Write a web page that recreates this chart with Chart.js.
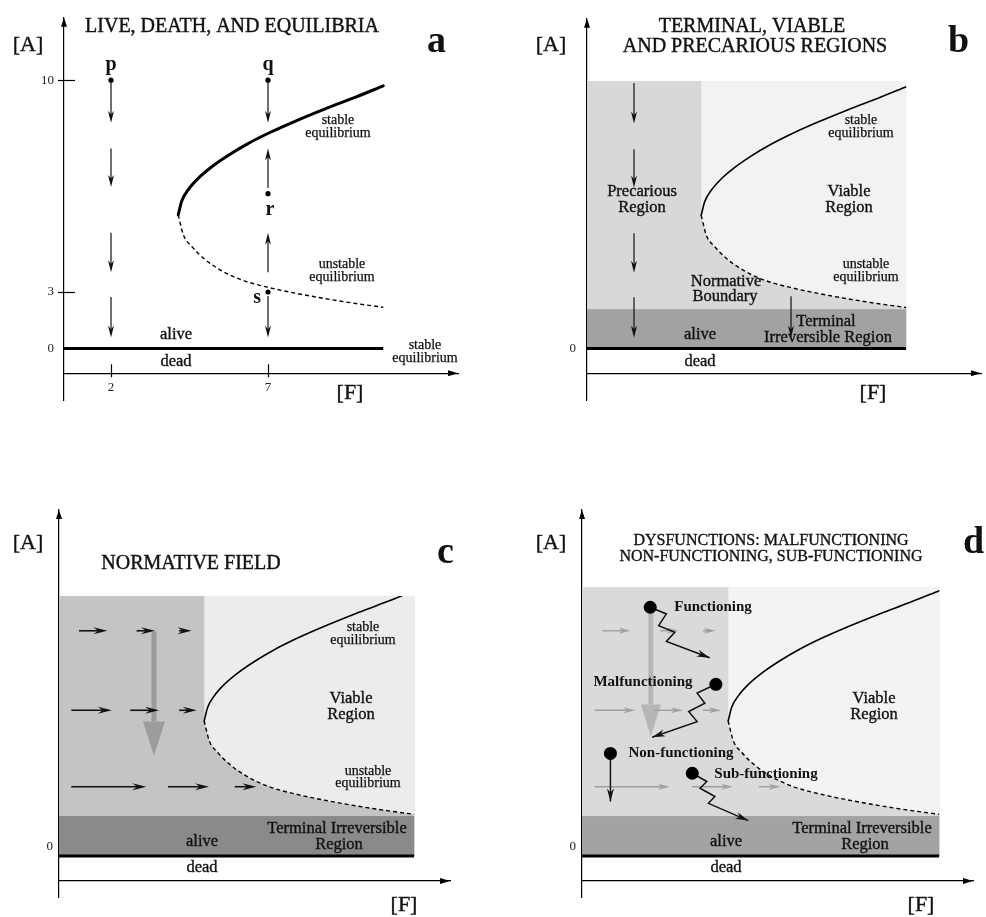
<!DOCTYPE html>
<html>
<head>
<meta charset="utf-8">
<script src="https://cdn.jsdelivr.net/npm/chart.js@4.4.1/dist/chart.umd.min.js"></script>
<style>
  html, body { margin: 0; padding: 0; background: #fff; }
  #wrap { position: relative; width: 986px; height: 917px; overflow: hidden; }
  canvas { position: absolute; }
</style>
</head>
<body>
<div id="wrap">
  <canvas id="pa" width="493" height="458" style="left:0;top:0"></canvas>
  <canvas id="pb" width="493" height="458" style="left:493px;top:0"></canvas>
  <canvas id="pc" width="493" height="459" style="left:0;top:458px"></canvas>
  <canvas id="pd" width="493" height="459" style="left:493px;top:458px"></canvas>
</div>
<script>
// ---- data (F = environment, A = state of the system) ----

// bifurcation curve, same system in every panel
const stableF   = [4.14, 4.25, 4.46, 4.78, 5.21, 5.74, 6.32, 7.06, 7.86, 8.82, 9.77, 10.67];
const stableA   = [5.55, 6.00, 6.38, 6.76, 7.14, 7.52, 7.88, 8.27, 8.64, 9.05, 9.43, 9.81];
const unstableF = [4.14, 4.30, 4.57, 4.99, 5.53, 6.16, 7.06, 7.96, 8.92, 9.88, 10.67];
const unstableA = [5.55, 4.90, 4.51, 4.08, 3.70, 3.40, 3.14, 2.91, 2.62, 2.37, 2.19];

// the alive / dead boundary (A = 0)
const deadLineF = [-1, 10.67];
const deadLineA = [0, 0];

// panel a: initial states
const stateNames = ['p', 'q', 'r', 's'];
const stateF = [2, 7, 7, 7];
const stateA = [10, 10, 6.25, 3];

// panels a, b: flow arrows along F = 2 and F = 7
const flowF     = [2, 2, 2, 2, 7, 7, 7, 7];
const flowFromA = [9.93, 7.74, 4.96, 2.74, 9.93, 6.44, 3.65, 2.79];
const flowToA   = [8.59, 6.47, 3.65, 0.58, 8.59, 7.74, 4.96, 0.58];

// regions (panels b, c, d)
const stateSpaceEndF = 10.67;
const precariousEndF = 4.14;
const terminalTopA = 2.1;
const stateSpaceTopA = [10, 9.64, 9.93]; // b, c, d

// panels c, d: normative field arrows
const fieldA     = [8.5, 8.5, 8.5, 5.9, 5.9, 5.9, 3.4, 3.4, 3.4];
const fieldFromF = [0.25, 2.04, 3.36, 0.01, 1.84, 3.36, 0.01, 3.02, 5.09];
const fieldToF   = [1.13, 2.61, 3.75, 1.27, 2.74, 3.91, 2.34, 4.29, 5.76];

// big normative arrow: panel c, panel d
const normF     = [2.58, 1.75];
const normFromA = [8.48, 9.25];
const normToA   = [4.42, 5.04];

// panel d: dysfunction trajectories
const functioningF    = [1.73, 2.23, 1.99, 2.49, 2.23, 3.57];
const functioningA    = [9.27, 9.05, 8.67, 8.45, 8.15, 7.62];
const malfunctioningF = [3.76, 3.18, 3.42, 2.92, 3.18, 1.79];
const malfunctioningA = [6.75, 6.46, 6.13, 5.86, 5.53, 5.02];
const nonFunctioningF = [0.50, 0.50];
const nonFunctioningA = [4.49, 2.86];
const subFunctioningF = [3.03, 3.48, 3.27, 3.73, 3.53, 4.76];
const subFunctioningA = [3.84, 3.57, 3.35, 3.08, 2.77, 1.86];

// the A axis of the schematic is not evenly spaced: 0..3 is shorter than 3..10
const A_AXIS_KNOTS = [[0, 0], [3, 57], [10, 271]];

class SchematicScale extends Chart.LinearScale {
  warp(v) {
    const k = A_AXIS_KNOTS;
    let i = 1;
    while (i < k.length - 1 && v > k[i][0]) i++;
    return k[i - 1][1] + (v - k[i - 1][0]) * (k[i][1] - k[i - 1][1]) / (k[i][0] - k[i - 1][0]);
  }
  unwarp(w) {
    const k = A_AXIS_KNOTS;
    let i = 1;
    while (i < k.length - 1 && w > k[i][1]) i++;
    return k[i - 1][0] + (w - k[i - 1][1]) * (k[i][0] - k[i - 1][0]) / (k[i][1] - k[i - 1][1]);
  }
  getPixelForValue(v) {
    if (v === null || v === undefined || isNaN(v)) return NaN;
    const lo = this.warp(this.min), hi = this.warp(this.max);
    return this.getPixelForDecimal((this.warp(v) - lo) / (hi - lo));
  }
  getValueForPixel(p) {
    const lo = this.warp(this.min), hi = this.warp(this.max);
    return this.unwarp(lo + this.getDecimalForPixel(p) * (hi - lo));
  }
}
SchematicScale.id = 'schematic';
SchematicScale.defaults = Chart.LinearScale.defaults;
Chart.register(SchematicScale);

const SERIF = '"Liberation Serif", "DejaVu Serif", serif';
// font, align, baseline, extra stroke to thicken the thin face a little
const FONTS = {
  title:   ['20px ' + SERIF, 'center', 'middle', 0.4],
  titleSm: ['16px ' + SERIF, 'center', 'middle', 0.35],
  letter:  ['bold 38px ' + SERIF, 'left', 'alphabetic', 0],
  axis:    ['22px ' + SERIF, 'center', 'middle', 0.4],
  region:  ['16.5px ' + SERIF, 'center', 'middle', 0.35],
  small:   ['14px ' + SERIF, 'center', 'middle', 0.25],
  state:   ['bold 20px ' + SERIF, 'center', 'middle', 0],
  dys:     ['bold 15px ' + SERIF, 'center', 'middle', 0]
};

const panels = [
  {
    id: 'pa', pad: { left: 24, right: 35, top: 14, bottom: 58 },
    xRange: [0.503, 13.05], yRange: [-2.74, 12.06], xAxisAt: -1.32,
    yTicks: [0, 3, 10], xTicks: [2, 7], yLabelPad: 10, yLabelOffset: 0,
    stableWidth: 3, shade: null, flows: true, crossTicks: true,
    stateLabelOffsets: [[0, -15], [0, -15], [2, 16], [-11, 6]],
    texts: [
      ['LIVE, DEATH, AND EQUILIBRIA', 232, 27, 'title'],
      ['a', 427, 52, 'letter'],
      ['[A]', 28, 45, 'axis'], ['[F]', 350, 393, 'axis'],
      ['stable', 338, 120, 'small'], ['equilibrium', 338, 133, 'small'],
      ['unstable', 342, 264, 'small'], ['equilibrium', 342, 277, 'small'],
      ['alive', 176, 335, 'region'], ['dead', 176, 362, 'region'],
      ['stable', 425, 345, 'small'], ['equilibrium', 425, 358, 'small']
    ]
  },
  {
    id: 'pb', pad: { left: 54, right: 5, top: 14, bottom: 58 },
    xRange: [0.503, 13.05], yRange: [-2.74, 12.06], xAxisAt: -1.32,
    yTicks: [0], xTicks: [], yLabelPad: 11, yLabelOffset: 0,
    stableWidth: 1.6, flows: true, region: 0,
    shade: { precarious: '#d8d8d8', viable: '#f2f2f2', terminal: '#a2a2a2' },
    texts: [
      ['TERMINAL, VIABLE', 259, 27, 'title'],
      ['AND PRECARIOUS REGIONS', 262, 47, 'title'],
      ['b', 455, 52, 'letter'],
      ['[A]', 58, 45, 'axis'], ['[F]', 380, 393, 'axis'],
      ['Precarious', 149, 192, 'region'], ['Region', 149, 208, 'region'],
      ['Viable', 356, 192, 'region'], ['Region', 356, 208, 'region'],
      ['stable', 368, 120, 'small'], ['equilibrium', 368, 133, 'small'],
      ['unstable', 373, 264, 'small'], ['equilibrium', 373, 277, 'small'],
      ['Normative', 233, 282, 'region'], ['Boundary', 232, 297, 'region'],
      ['Terminal', 333, 322, 'region'], ['Irreversible Region', 335, 338, 'region'],
      ['alive', 207, 335, 'region'], ['dead', 207, 362, 'region']
    ]
  },
  {
    id: 'pc', pad: { left: 19, right: 43, top: 52, bottom: 20 },
    xRange: [-0.371, 11.78], yRange: [-2.16, 12.45], xAxisAt: -1.32,
    yTicks: [0], xTicks: [], yLabelPad: 6, yLabelOffset: -9,
    stableWidth: 1.6, region: 1, norm: 0,
    shade: { precarious: '#c4c4c4', viable: '#ececec', terminal: '#8a8a8a' },
    field: { color: '#111', width: 1.6, len: 14, wid: 7, notch: 0.35 },
    big: { color: '#9c9c9c', shaft: 5, len: 34, wid: 22 },
    texts: [
      ['[A]', 28, 85, 'axis'],
      ['NORMATIVE FIELD', 191, 106, 'title'],
      ['c', 437, 105, 'letter'],
      ['stable', 363, 169, 'small'], ['equilibrium', 363, 182, 'small'],
      ['Viable', 351, 241, 'region'], ['Region', 351, 257, 'region'],
      ['unstable', 368, 313, 'small'], ['equilibrium', 368, 325, 'small'],
      ['Terminal Irreversible', 337, 371, 'region'], ['Region', 339, 387, 'region'],
      ['alive', 202, 384, 'region'], ['dead', 202, 410, 'region'],
      ['[F]', 404, 447, 'axis']
    ]
  },
  {
    id: 'pd', pad: { left: 49, right: 13, top: 52, bottom: 20 },
    xRange: [-0.379, 11.71], yRange: [-2.16, 12.45], xAxisAt: -1.32,
    yTicks: [0], xTicks: [], yLabelPad: 6, yLabelOffset: -9,
    stableWidth: 1.6, region: 2, norm: 1, dysfunctions: true,
    shade: { precarious: '#dadada', viable: '#f3f3f3', terminal: '#a3a3a3' },
    field: { color: '#a0a0a0', width: 1.4, len: 12, wid: 6, notch: 0.3 },
    big: { color: '#b6b6b6', shaft: 5, len: 32, wid: 20 },
    texts: [
      ['[A]', 58, 85, 'axis'],
      ['DYSFUNCTIONS: MALFUNCTIONING', 278, 83, 'titleSm'],
      ['NON-FUNCTIONING, SUB-FUNCTIONING', 278, 99, 'titleSm'],
      ['d', 470, 95, 'letter'],
      ['Viable', 381, 241, 'region'], ['Region', 381, 257, 'region'],
      ['Terminal Irreversible', 369, 371, 'region'], ['Region', 372, 387, 'region'],
      ['alive', 233, 384, 'region'], ['dead', 233, 410, 'region'],
      ['[F]', 428, 447, 'axis'],
      ['Functioning', 220, 149, 'dys'], ['Malfunctioning', 150, 224, 'dys'],
      ['Non-functioning', 188, 295, 'dys'], ['Sub-functioning', 273, 316, 'dys']
    ]
  }
];

function toXY(F, A) {
  return F.map((f, i) => ({ x: f, y: A[i] }));
}

function head(ctx, x, y, ang, len, wid, notch) {
  ctx.save();
  ctx.translate(x, y);
  ctx.rotate(ang);
  ctx.beginPath();
  ctx.moveTo(0, 0);
  ctx.lineTo(-len, -wid / 2);
  ctx.lineTo(-len * (1 - notch), 0);
  ctx.lineTo(-len, wid / 2);
  ctx.closePath();
  ctx.fill();
  ctx.restore();
}

function arrowPx(ctx, x1, y1, x2, y2, st) {
  const ang = Math.atan2(y2 - y1, x2 - x1);
  ctx.strokeStyle = st.color;
  ctx.fillStyle = st.color;
  ctx.lineWidth = st.width;
  ctx.beginPath();
  ctx.moveTo(x1, y1);
  ctx.lineTo(x2 - Math.cos(ang) * st.len * 0.6, y2 - Math.sin(ang) * st.len * 0.6);
  ctx.stroke();
  head(ctx, x2, y2, ang, st.len, st.wid, st.notch);
}

const FLOW_STYLE = { color: '#111', width: 1.2, len: 12, wid: 6, notch: 0.3 };
const TRAJ_HEAD = { len: 13, wid: 7, notch: 0.3 };

function makeDecor(p) {
  return {
    id: 'decor_' + p.id,
    beforeDatasetsDraw(chart) {
      const { ctx, chartArea: ca, scales: { x, y } } = chart;
      ctx.save();
      if (p.shade) {
        const right = x.getPixelForValue(stateSpaceEndF);
        const top = y.getPixelForValue(stateSpaceTopA[p.region]);
        const zero = y.getPixelForValue(0);
        const term = y.getPixelForValue(terminalTopA);
        ctx.fillStyle = p.shade.precarious;
        ctx.fillRect(ca.left, top, right - ca.left, zero - top);
        ctx.fillStyle = p.shade.terminal;
        ctx.fillRect(ca.left, term, right - ca.left, zero - term);
      }
      if (p.big) {
        const bx = x.getPixelForValue(normF[p.norm]);
        const y1 = y.getPixelForValue(normFromA[p.norm]);
        const y2 = y.getPixelForValue(normToA[p.norm]);
        const hb = y2 - p.big.len;
        ctx.fillStyle = p.big.color;
        ctx.fillRect(bx - p.big.shaft / 2, y1, p.big.shaft, hb - y1);
        ctx.beginPath();
        ctx.moveTo(bx - p.big.wid / 2, hb);
        ctx.lineTo(bx + p.big.wid / 2, hb);
        ctx.lineTo(bx, y2);
        ctx.closePath();
        ctx.fill();
      }
      if (p.field) {
        fieldA.forEach((a, i) => {
          const py = y.getPixelForValue(a);
          arrowPx(ctx, x.getPixelForValue(fieldFromF[i]), py, x.getPixelForValue(fieldToF[i]), py, p.field);
        });
      }
      if (p.flows) {
        flowF.forEach((f, i) => {
          const px = x.getPixelForValue(f);
          arrowPx(ctx, px, y.getPixelForValue(flowFromA[i]), px, y.getPixelForValue(flowToA[i]), FLOW_STYLE);
        });
      }
      ctx.restore();
      if (p.shade) {
        // keep the curves inside the drawn state space
        const right = x.getPixelForValue(stateSpaceEndF);
        const top = y.getPixelForValue(stateSpaceTopA[p.region]);
        ctx.save();
        ctx.beginPath();
        ctx.rect(ca.left, top, right - ca.left, ca.bottom - top);
        ctx.clip();
        chart.$decorClip = true;
      }
    },
    afterDatasetsDraw(chart) {
      const { ctx } = chart;
      if (chart.$decorClip) {
        ctx.restore();
        chart.$decorClip = false;
      }
      chart.data.datasets.forEach((ds, i) => {
        if (!ds.arrowEnd) return;
        const pts = chart.getDatasetMeta(i).data;
        const a = pts[pts.length - 2], b = pts[pts.length - 1];
        ctx.fillStyle = ds.borderColor;
        head(ctx, b.x, b.y, Math.atan2(b.y - a.y, b.x - a.x), TRAJ_HEAD.len, TRAJ_HEAD.wid, TRAJ_HEAD.notch);
      });
    },
    afterDraw(chart) {
      const { ctx, chartArea: ca, scales: { x, y } } = chart;
      const axisY = y.getPixelForValue(p.xAxisAt);
      ctx.save();
      ctx.fillStyle = '#000';
      ctx.strokeStyle = '#000';
      head(ctx, ca.left, ca.top, -Math.PI / 2, 9, 6, 0);
      head(ctx, ca.right, axisY, 0, 10, 6, 0);
      if (p.crossTicks) {
        ctx.lineWidth = 1.2;
        y.ticks.forEach(t => {
          if (t.value === 0) return;
          const py = Math.round(y.getPixelForValue(t.value)) + 0.5;
          ctx.beginPath(); ctx.moveTo(ca.left - 6, py); ctx.lineTo(ca.left + 11, py); ctx.stroke();
        });
        x.ticks.forEach(t => {
          const px = Math.round(x.getPixelForValue(t.value)) + 0.5;
          ctx.beginPath(); ctx.moveTo(px, axisY - 9); ctx.lineTo(px, axisY + 4); ctx.stroke();
        });
      }
      ctx.fillStyle = '#111';
      ctx.strokeStyle = '#111';
      const put = (txt, tx, ty, key) => {
        const f = FONTS[key];
        ctx.font = f[0]; ctx.textAlign = f[1]; ctx.textBaseline = f[2];
        ctx.fillText(txt, tx, ty);
        if (f[3]) { ctx.lineWidth = f[3]; ctx.strokeText(txt, tx, ty); }
      };
      if (p.stateLabelOffsets) {
        stateNames.forEach((n, i) => {
          const o = p.stateLabelOffsets[i];
          put(n, x.getPixelForValue(stateF[i]) + o[0], y.getPixelForValue(stateA[i]) + o[1], 'state');
        });
      }
      p.texts.forEach(([txt, tx, ty, key]) => put(txt, tx, ty, key));
      ctx.restore();
    }
  };
}

function buildDatasets(p) {
  const sets = [];
  if (p.dysfunctions) {
    [[functioningF, functioningA], [malfunctioningF, malfunctioningA],
     [nonFunctioningF, nonFunctioningA], [subFunctioningF, subFunctioningA]].forEach(([F, A]) => {
      sets.push({
        data: toXY(F, A), borderColor: '#111', borderWidth: 1.5, tension: 0,
        pointRadius: F.map((_, i) => (i === 0 ? 6.5 : 0)),
        pointBackgroundColor: '#000', pointBorderWidth: 0, arrowEnd: true
      });
    });
  }
  if (p.stateLabelOffsets) {
    sets.push({
      data: toXY(stateF, stateA), showLine: false, pointRadius: 2.6,
      pointBackgroundColor: '#000', pointBorderWidth: 0
    });
  }
  sets.push({
    data: toXY(deadLineF, deadLineA), borderColor: '#000', borderWidth: 3, pointRadius: 0
  });
  sets.push({
    data: toXY(stableF, stableA), borderColor: '#000', borderWidth: p.stableWidth,
    pointRadius: 0, cubicInterpolationMode: 'monotone', borderCapStyle: 'round'
  });
  sets.push({
    data: toXY(unstableF, unstableA), borderColor: '#000', borderWidth: 1.4,
    borderDash: [4, 3], pointRadius: 0, cubicInterpolationMode: 'monotone',
    fill: p.shade ? 'end' : false,
    backgroundColor: p.shade ? p.shade.viable : 'transparent'
  });
  return sets;
}

panels.forEach(p => {
  new Chart(document.getElementById(p.id), {
    type: 'line',
    data: { datasets: buildDatasets(p) },
    plugins: [makeDecor(p)],
    options: {
      responsive: false,
      animation: false,
      devicePixelRatio: 1,
      events: [],
      layout: { padding: p.pad },
      plugins: { legend: { display: false }, tooltip: { enabled: false }, title: { display: false } },
      scales: {
        x: {
          type: 'linear', min: p.xRange[0], max: p.xRange[1], bounds: 'data',
          position: { y: p.xAxisAt }, z: 1,
          afterFit: s => { s.height = 0; },
          afterBuildTicks: s => { s.ticks = p.xTicks.map(v => ({ value: v })); },
          grid: { display: false, drawTicks: false },
          border: { display: true, color: '#000', width: 1.2 },
          ticks: {
            display: p.xTicks.length > 0, padding: 6, color: '#222',
            font: { family: 'Liberation Serif', size: 13 }
          }
        },
        y: {
          type: 'schematic', min: p.yRange[0], max: p.yRange[1], bounds: 'data',
          position: 'left', z: 1,
          afterFit: s => { s.width = 40; },
          afterBuildTicks: s => { s.ticks = p.yTicks.map(v => ({ value: v })); },
          grid: { display: false, drawTicks: false },
          border: { display: true, color: '#000', width: 1.2 },
          ticks: {
            padding: p.yLabelPad, labelOffset: p.yLabelOffset, color: '#222',
            font: { family: 'Liberation Serif', size: 13 }
          }
        }
      }
    }
  });
});
</script>
</body>
</html>
